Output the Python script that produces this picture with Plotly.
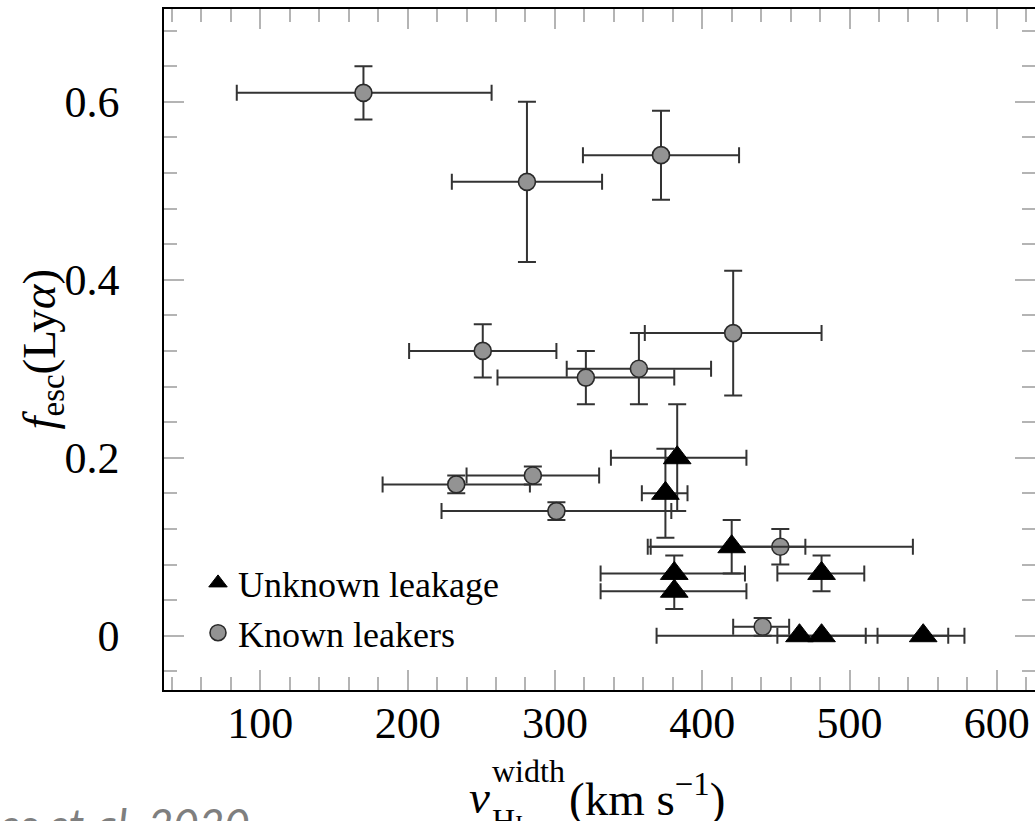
import plotly.graph_objects as go

# Known Lyman-continuum leakers: H I width (km/s) vs Lya escape fraction
known_v = [170, 281, 372, 421, 251, 321, 357, 233, 285, 301, 453, 441]
known_v_minus = [86, 51, 53, 60, 50, 60, 49, 50, 45, 78, 90, 20]
known_v_plus = [87, 51, 53, 60, 50, 60, 49, 50, 45, 78, 90, 18]
known_f = [0.61, 0.51, 0.54, 0.34, 0.32, 0.29, 0.30, 0.17, 0.18, 0.14, 0.10, 0.01]
known_f_err = [0.03, 0.09, 0.05, 0.07, 0.03, 0.03, 0.04, 0.01, 0.01, 0.01, 0.02, 0.01]

# Galaxies with unknown leakage
unk_v = [383, 375, 420, 381, 381, 481, 466, 481, 550]
unk_v_minus = [45, 16, 55, 50, 50, 30, 97, 30, 31]
unk_v_plus = [47, 15, 50, 48, 49, 29, 101, 30, 28]
unk_f = [0.20, 0.16, 0.10, 0.07, 0.05, 0.07, 0.0, 0.0, 0.0]
unk_f_err = [0.06, 0.05, 0.03, 0.02, 0.02, 0.02, 0.0, 0.0, 0.0]

x_ticks = [100, 200, 300, 400, 500, 600]
y_ticks = [0, 0.2, 0.4, 0.6]
y_tick_text = ["0", "0.2", "0.4", "0.6"]

citation = "es et al. 2020"

W, H = 1035, 821
L, R, T, B = 164, 0, 9, 131
PW, PH = W - L - R, H - T - B
X_RANGE = [34.6, 625.9]
Y_RANGE = [-0.061, 0.7042]

SERIF = "Liberation Serif, Times New Roman, serif"
ERR_COL = "#333333"
TICK_COL = "#b4b4b4"


def px_x(p):
    return (p - L) / PW


def px_y(p):
    return (T + PH - p) / PH


fig = go.Figure()

fig.add_trace(go.Scatter(
    x=known_v, y=known_f, mode="markers", name="Known leakers",
    marker=dict(symbol="circle", size=17, color="#939393",
                line=dict(color="#2a2a2a", width=1.6)),
    error_x=dict(type="data", symmetric=False, array=known_v_plus,
                 arrayminus=known_v_minus, color=ERR_COL, thickness=2, width=8),
    error_y=dict(type="data", array=known_f_err, color=ERR_COL,
                 thickness=2, width=9),
))

fig.add_trace(go.Scatter(
    x=unk_v, y=unk_f, mode="markers", name="Unknown leakage",
    marker=dict(symbol="triangle-up", size=24, color="black",
                line=dict(color="black", width=1)),
    error_x=dict(type="data", symmetric=False, array=unk_v_plus,
                 arrayminus=unk_v_minus, color=ERR_COL, thickness=2, width=8),
    error_y=dict(type="data", array=unk_f_err, color=ERR_COL,
                 thickness=2, width=9),
))

# empty trace so the right-hand tick axis gets drawn
fig.add_trace(go.Scatter(x=[], y=[], yaxis="y2", showlegend=False,
                         hoverinfo="skip"))

tick_style = dict(ticks="inside", ticklen=20, tickwidth=1.5, tickcolor=TICK_COL,
                  showgrid=False, zeroline=False)
label_font = dict(family=SERIF, size=44, color="black")
minor_y = dict(dtick=0.04, tick0=0, ticks="inside", ticklen=13,
               tickwidth=1.5, tickcolor=TICK_COL)

fig.update_layout(
    xaxis=dict(
        range=X_RANGE, tickvals=x_ticks, ticklabelstandoff=-7,
        showline=True, linecolor="black", linewidth=1.6, mirror="ticks",
        tickfont=label_font,
        minor=dict(dtick=20, tick0=0, ticks="inside", ticklen=13,
                   tickwidth=1.5, tickcolor=TICK_COL),
        **tick_style,
    ),
    yaxis=dict(
        range=Y_RANGE, tickvals=y_ticks, ticktext=y_tick_text,
        ticklabelstandoff=34,
        showline=True, linecolor="black", linewidth=1.6, mirror=False,
        tickfont=label_font, minor=minor_y,
        **tick_style,
    ),
    # right-hand ticks only, the frame runs past the page edge there
    yaxis2=dict(
        range=Y_RANGE, tickvals=y_ticks, overlaying="y", side="right",
        showticklabels=False, showline=False, minor=minor_y,
        **tick_style,
    ),
)

annotations = [
    # y-axis title
    dict(text="<i>f</i><sub>esc</sub>(Ly<i>α</i>)", x=px_x(42), y=0.5,
         xref="paper", yref="paper", textangle=-90, showarrow=False,
         xanchor="center", yanchor="middle",
         font=dict(family=SERIF, size=47, color="black")),
    # x-axis title, built from stacked pieces
    dict(text="<i>v</i>", x=px_x(492), y=px_y(797), xref="paper", yref="paper",
         showarrow=False, xanchor="right", yanchor="middle",
         font=dict(family=SERIF, size=47, color="black")),
    dict(text="width", x=px_x(490), y=px_y(771), xref="paper", yref="paper",
         showarrow=False, xanchor="left", yanchor="middle",
         font=dict(family=SERIF, size=32, color="black")),
    dict(text="H<span style='font-size:24px'>I</span>", x=px_x(490), y=px_y(820),
         xref="paper", yref="paper", showarrow=False, xanchor="left",
         yanchor="middle", font=dict(family=SERIF, size=32, color="black")),
    dict(text="(km s<sup>−1</sup>)", x=px_x(567), y=px_y(795), xref="paper",
         yref="paper", showarrow=False, xanchor="left", yanchor="middle",
         font=dict(family=SERIF, size=47, color="black")),
    # citation at the foot of the figure
    dict(text="<i>" + citation + "</i>", x=px_x(-3), y=px_y(796), xref="paper",
         yref="paper", showarrow=False, xanchor="left", yanchor="top",
         font=dict(family="Lato, Open Sans, sans-serif", size=44, color="#7f7f7f")),
]

fig.update_layout(
    width=W, height=H,
    margin=dict(l=L, r=R, t=T, b=B, pad=0),
    paper_bgcolor="white", plot_bgcolor="white",
    showlegend=True,
    legend=dict(x=px_x(198), y=px_y(553), xanchor="left", yanchor="top",
                traceorder="reversed", bgcolor="rgba(0,0,0,0)",
                font=dict(family=SERIF, size=36, color="black"),
                itemsizing="trace", tracegroupgap=0),
    annotations=annotations,
)

fig.write_html("out.html")
